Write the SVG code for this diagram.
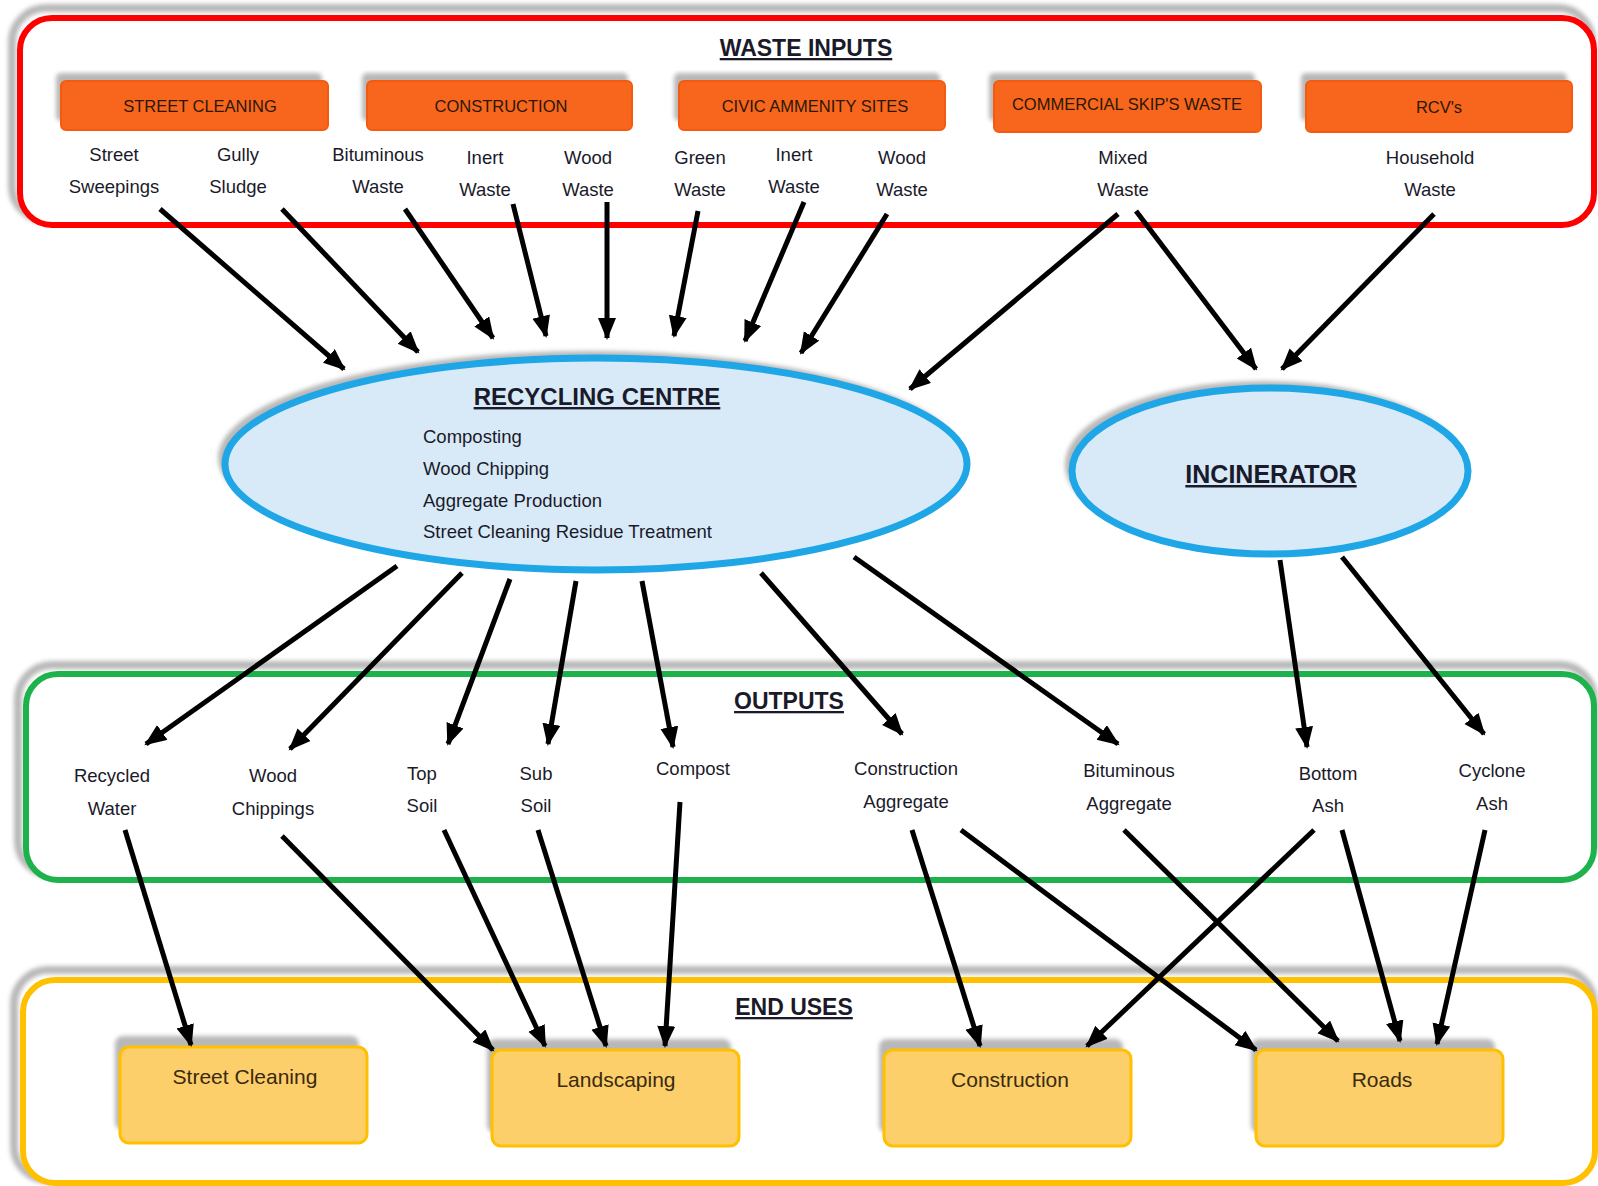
<svg xmlns="http://www.w3.org/2000/svg" width="1598" height="1186" viewBox="0 0 1598 1186">
<defs>
<marker id="ah" markerUnits="userSpaceOnUse" markerWidth="24" markerHeight="20" refX="20" refY="9" orient="auto">
<path d="M0,0 L22,9 L0,18 Z" fill="#000"/>
</marker>
<filter id="blur" x="-5%" y="-5%" width="110%" height="110%"><feGaussianBlur stdDeviation="2"/></filter>
</defs>
<style>
text{font-family:"Liberation Sans","DejaVu Sans",sans-serif;fill:#1a1a2a;}
.lbl{font-size:18.5px;text-anchor:middle;}
.title{font-size:23px;font-weight:bold;text-anchor:middle;text-decoration:underline;}
.hdr{font-size:16.5px;text-anchor:middle;fill:#2a1808;}
.item{font-size:18.5px;}
.eu{font-size:21px;text-anchor:middle;fill:#3a2a10;}
.shadow{fill:#b8b8b8;filter:url(#blur);}
.ob{fill:#f7661c;stroke:#f45a10;stroke-width:2;}
.eb{fill:#fccf6a;stroke:#ffc000;stroke-width:3;}
.conn line{stroke:#000;stroke-width:5;marker-end:url(#ah);}
</style>
<rect width="1598" height="1186" fill="#fff"/>

<g id="waste-inputs">
<rect x="12" y="8" width="1580" height="212" rx="34" fill="none" stroke="#b8b8b8" stroke-width="8" filter="url(#blur)"/>
<rect x="20" y="18" width="1574" height="207" rx="32" fill="#fff" stroke="#ff0000" stroke-width="6"/>
<text class="title" x="806" y="56">WASTE INPUTS</text>
</g>

<g id="street-cleaning-src">
<rect class="shadow" x="56" y="73" width="266" height="48" rx="5"/>
<rect class="ob" x="61" y="81" width="267" height="49" rx="5"/>
<text class="hdr" x="200" y="112">STREET CLEANING</text>
</g>
<g id="construction-src">
<rect class="shadow" x="362" y="73" width="266" height="48" rx="5"/>
<rect class="ob" x="367" y="81" width="265" height="49" rx="5"/>
<text class="hdr" x="501" y="112">CONSTRUCTION</text>
</g>
<g id="civic-src">
<rect class="shadow" x="674" y="73" width="266" height="48" rx="5"/>
<rect class="ob" x="679" y="81" width="266" height="49" rx="5"/>
<text class="hdr" x="815" y="112">CIVIC AMMENITY SITES</text>
</g>
<g id="commercial-src">
<rect class="shadow" x="989" y="73" width="266" height="48" rx="5"/>
<rect class="ob" x="994" y="81" width="267" height="51" rx="5"/>
<text class="hdr" x="1127" y="110">COMMERCIAL SKIP'S WASTE</text>
</g>
<g id="rcv-src">
<rect class="shadow" x="1301" y="73" width="266" height="48" rx="5"/>
<rect class="ob" x="1306" y="81" width="266" height="51" rx="5"/>
<text class="hdr" x="1439" y="113">RCV's</text>
</g>

<g id="input-labels">
<text class="lbl" x="114" y="161">Street</text><text class="lbl" x="114" y="193">Sweepings</text>
<text class="lbl" x="238" y="161">Gully</text><text class="lbl" x="238" y="193">Sludge</text>
<text class="lbl" x="378" y="161">Bituminous</text><text class="lbl" x="378" y="193">Waste</text>
<text class="lbl" x="485" y="164">Inert</text><text class="lbl" x="485" y="196">Waste</text>
<text class="lbl" x="588" y="164">Wood</text><text class="lbl" x="588" y="196">Waste</text>
<text class="lbl" x="700" y="164">Green</text><text class="lbl" x="700" y="196">Waste</text>
<text class="lbl" x="794" y="161">Inert</text><text class="lbl" x="794" y="193">Waste</text>
<text class="lbl" x="902" y="164">Wood</text><text class="lbl" x="902" y="196">Waste</text>
<text class="lbl" x="1123" y="164">Mixed</text><text class="lbl" x="1123" y="196">Waste</text>
<text class="lbl" x="1430" y="164">Household</text><text class="lbl" x="1430" y="196">Waste</text>
</g>

<g id="recycling-centre">
<ellipse cx="590" cy="458" rx="372" ry="107" fill="#b8b8b8" filter="url(#blur)"/>
<ellipse cx="596" cy="464" rx="371" ry="106" fill="#d8eaf8" stroke="#1fa6e6" stroke-width="7"/>
<text class="title" x="597" y="405" style="font-size:24px">RECYCLING CENTRE</text>
<text class="item" x="423" y="443">Composting</text>
<text class="item" x="423" y="475">Wood Chipping</text>
<text class="item" x="423" y="507">Aggregate Production</text>
<text class="item" x="423" y="538">Street Cleaning Residue Treatment</text>
</g>

<g id="incinerator">
<ellipse cx="1264" cy="465" rx="199" ry="84" fill="#b8b8b8" filter="url(#blur)"/>
<ellipse cx="1270" cy="471" rx="198" ry="83" fill="#d8eaf8" stroke="#1fa6e6" stroke-width="7"/>
<text class="title" x="1271" y="483" style="font-size:25px">INCINERATOR</text>
</g>

<g id="outputs">
<rect x="18" y="665" width="1576" height="210" rx="34" fill="none" stroke="#b8b8b8" stroke-width="8" filter="url(#blur)"/>
<rect x="26" y="674" width="1568" height="206" rx="32" fill="#fff" stroke="#1db24b" stroke-width="6"/>
<text class="title" x="789" y="709">OUTPUTS</text>
<text class="lbl" x="112" y="782">Recycled</text><text class="lbl" x="112" y="815">Water</text>
<text class="lbl" x="273" y="782">Wood</text><text class="lbl" x="273" y="815">Chippings</text>
<text class="lbl" x="422" y="780">Top</text><text class="lbl" x="422" y="812">Soil</text>
<text class="lbl" x="536" y="780">Sub</text><text class="lbl" x="536" y="812">Soil</text>
<text class="lbl" x="693" y="775">Compost</text>
<text class="lbl" x="906" y="775">Construction</text><text class="lbl" x="906" y="808">Aggregate</text>
<text class="lbl" x="1129" y="777">Bituminous</text><text class="lbl" x="1129" y="810">Aggregate</text>
<text class="lbl" x="1328" y="780">Bottom</text><text class="lbl" x="1328" y="812">Ash</text>
<text class="lbl" x="1492" y="777">Cyclone</text><text class="lbl" x="1492" y="810">Ash</text>
</g>

<g id="end-uses">
<rect x="14" y="970" width="1580" height="210" rx="34" fill="none" stroke="#b8b8b8" stroke-width="8" filter="url(#blur)"/>
<rect x="23" y="980" width="1572" height="203" rx="32" fill="#fff" stroke="#ffc000" stroke-width="6"/>
<text class="title" x="794" y="1015">END USES</text>
</g>

<g id="street-cleaning-use">
<rect class="shadow" x="115" y="1036" width="244" height="94" rx="8"/>
<rect class="eb" x="120" y="1047" width="247" height="96" rx="9"/>
<text class="eu" x="245" y="1084">Street Cleaning</text>
</g>
<g id="landscaping-use">
<rect class="shadow" x="487" y="1039" width="244" height="94" rx="8"/>
<rect class="eb" x="492" y="1050" width="247" height="96" rx="9"/>
<text class="eu" x="616" y="1087">Landscaping</text>
</g>
<g id="construction-use">
<rect class="shadow" x="879" y="1039" width="244" height="94" rx="8"/>
<rect class="eb" x="884" y="1050" width="247" height="96" rx="9"/>
<text class="eu" x="1010" y="1087">Construction</text>
</g>
<g id="roads-use">
<rect class="shadow" x="1251" y="1039" width="244" height="94" rx="8"/>
<rect class="eb" x="1256" y="1050" width="247" height="96" rx="9"/>
<text class="eu" x="1382" y="1087">Roads</text>
</g>

<g id="connectors" class="conn">
<line x1="160" y1="209" x2="344" y2="369"/>
<line x1="282" y1="209" x2="418" y2="352"/>
<line x1="405" y1="209" x2="493" y2="338"/>
<line x1="513" y1="204" x2="546" y2="336"/>
<line x1="607" y1="202" x2="607" y2="338"/>
<line x1="698" y1="211" x2="674" y2="336"/>
<line x1="804" y1="202" x2="745" y2="341"/>
<line x1="887" y1="214" x2="801" y2="353"/>
<line x1="1118" y1="214" x2="910" y2="389"/>
<line x1="1136" y1="211" x2="1256" y2="369"/>
<line x1="1434" y1="214" x2="1282" y2="369"/>
<line x1="397" y1="566" x2="146" y2="744"/>
<line x1="462" y1="573" x2="290" y2="749"/>
<line x1="510" y1="579" x2="448" y2="744"/>
<line x1="576" y1="581" x2="548" y2="744"/>
<line x1="642" y1="581" x2="673" y2="747"/>
<line x1="761" y1="573" x2="902" y2="734"/>
<line x1="854" y1="557" x2="1118" y2="744"/>
<line x1="1280" y1="560" x2="1307" y2="747"/>
<line x1="1342" y1="557" x2="1484" y2="734"/>
<line x1="125" y1="830" x2="191" y2="1045"/>
<line x1="282" y1="836" x2="493" y2="1050"/>
<line x1="444" y1="830" x2="545" y2="1046"/>
<line x1="538" y1="830" x2="606" y2="1046"/>
<line x1="680" y1="802" x2="665" y2="1046"/>
<line x1="912" y1="830" x2="980" y2="1046"/>
<line x1="961" y1="830" x2="1256" y2="1050"/>
<line x1="1124" y1="830" x2="1338" y2="1041"/>
<line x1="1314" y1="830" x2="1087" y2="1046"/>
<line x1="1342" y1="830" x2="1400" y2="1041"/>
<line x1="1485" y1="830" x2="1437" y2="1044"/>
</g>
</svg>
